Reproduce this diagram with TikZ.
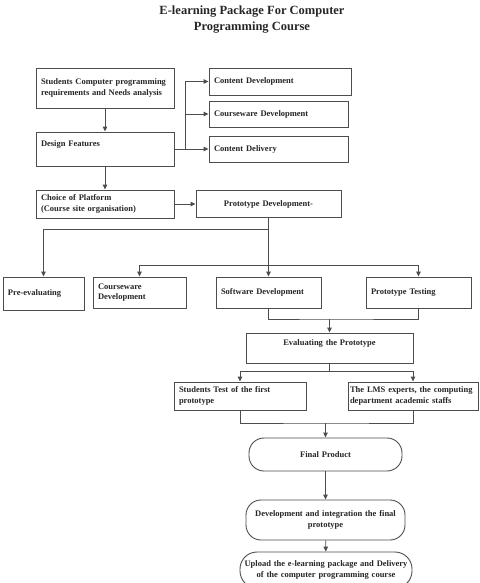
\documentclass[tikz,border=0pt]{standalone}
\usepackage{fontspec}
\setmainfont{Liberation Serif}
\usepackage{tikz}
\usetikzlibrary{arrows.meta, positioning}
\definecolor{linegray}{HTML}{4D4D4D}
\definecolor{textgray}{HTML}{262626}

\begin{document}
\begin{tikzpicture}[
        x=1pt, y=-1pt,
        box/.style 2 args={draw=linegray, line width=0.9pt, fill=white,
                     minimum width=#1pt, minimum height=#2pt, text width={#1pt-10pt},
                     inner xsep=5pt, inner ysep=2pt, align=left, text=textgray,
                     font=\fontsize{8.5}{10.5}\selectfont\bfseries},
        mid/.style={align=center},
        pill/.style={rounded corners=#1pt},
        arrow/.style={-{Triangle[length=5pt, width=4.5pt]}, line width=0.9pt, draw=linegray},
        link/.style={line width=0.9pt, draw=linegray},
    ]
    \useasboundingbox (0,0) rectangle (479,583);

    %--- Title ---
    \node[font=\fontsize{12.5}{16}\selectfont\bfseries, align=center, text=textgray]
          (title) at (252,20) {E-learning Package For Computer\\Programming Course};

    %--- Analysis and design ---
    \node[box={138}{40}]   (req)    at (105,88)    {Students Computer programming\\requirements and Needs analysis};
    \node[box={138}{34}]   (design) at (105,149)   {Design Features\\~};
    \node[box={142}{27}]   (cdev)   at (280,81.5)  {Content Development};
    \node[box={139}{26}]   (cware)  at (278.5,114) {Courseware Development};
    \node[box={139}{26}]   (cdel)   at (278.5,149) {Content Delivery};

    \coordinate (fork) at (185,149);
    \draw[arrow] (req)  -- (design);
    \draw[link]  (design.east) -- (fork);
    \draw[arrow] (fork) |- (cdev.west);
    \draw[arrow] (fork) |- (cware.west);
    \draw[arrow] (fork) -- (cdel.west);

    %--- Platform and prototype ---
    \node[box={138}{28}]       (choice) at (105,204)   {Choice of Platform\\(Course site organisation)};
    \node[box={145}{27}, mid]  (proto)  at (268.5,204) {Prototype Development-};

    \draw[arrow] (design) -- (choice);
    \draw[arrow] (choice) -- (proto);

    %--- Prototype tasks ---
    \node[box={81}{33}]    (pre)    at (43.5,293.5)  {Pre-evaluating};
    \node[box={93}{31}]    (cware2) at (139.5,292.5) {Courseware\\Development};
    \node[box={105}{31}]   (soft)   at (268.5,292.5) {Software Development};
    \node[box={105}{31}]   (ptest)  at (418.5,292.5) {Prototype Testing};

    \coordinate (splitA) at (268.5,229);
    \coordinate (splitB) at (268.5,265);
    \draw[link]  (proto.south) -- (splitB);
    \draw[arrow] (splitA) -| (pre.north);
    \draw[arrow] (splitB) -- (soft.north);
    \draw[arrow] (splitB) -| (cware2.north);
    \draw[arrow] (splitB) -| (ptest.north);

    %--- Evaluation ---
    \node[box={167}{30}, mid]  (eval)  at (329.5,348) {Evaluating the Prototype\\~};
    \node[box={132}{28}]       (stest) at (240,396)   {Students Test of the first\\prototype};
    \node[box={130}{28}, inner xsep=2pt, text width=126pt]
                               (lms)   at (413,396)   {The LMS experts, the computing\\department academic staffs};

    \coordinate (joinA)  at (329.5,319);
    \coordinate (splitC) at (329.5,371);
    \draw[link]  (soft.south) |- (joinA) -| (ptest.south);
    \draw[arrow] (joinA) -- (eval.north);
    \draw[link]  (eval.south) -- (splitC);
    \draw[arrow] (splitC) -| (stest.north);
    \draw[arrow] (splitC) -| (lms.north);

    %--- Final product ---
    \node[box={153}{33}, mid, pill=15]  (final)  at (325.5,454.5) {Final Product};
    \node[box={159}{40}, mid, pill=15]  (devint) at (325.5,520)   {Development and integration the final\\prototype};
    \node[box={172}{36}, mid, pill=17, inner xsep=1pt, text width=170pt]
                                        (upload) at (326,570)     {Upload the e-learning package and Delivery\\of the computer programming course};

    \coordinate (joinB) at (325.5,423);
    \draw[link]  (stest.south) |- (joinB) -| (lms.south);
    \draw[arrow] (joinB)  -- (final.north);
    \draw[arrow] (final)  -- (devint);
    \draw[arrow] (devint) -- (upload);
\end{tikzpicture}
\end{document}
